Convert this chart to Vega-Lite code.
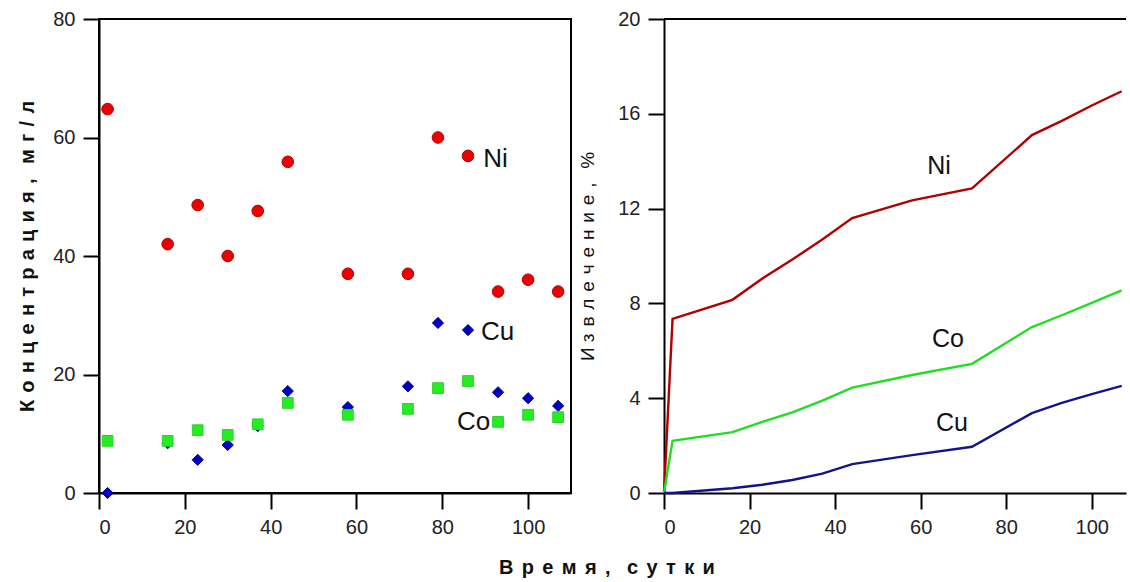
{
  "$schema": "https://vega.github.io/schema/vega-lite/v6.json",
  "padding": {"left": 16, "top": 8, "right": 0, "bottom": 4},
  "background": "white",
  "config": {
    "font": "Liberation Sans",
    "view": {"stroke": "#000", "strokeWidth": 2},
    "axis": {
      "grid": false,
      "domainColor": "#000",
      "domainWidth": 2,
      "tickColor": "#000",
      "tickWidth": 2,
      "tickSize": 16,
      "labelFont": "Liberation Sans",
      "labelFontSize": 20,
      "labelColor": "#222",
      "titleFont": "Liberation Sans",
      "titleColor": "#111",
      "titleFontSize": 19
    },
    "axisX": {"labelPadding": 8},
    "axisY": {"labelPadding": 8}
  },
  "datasets": {
    "conc": [
      {"t": 2, "el": "Ni", "c": 64.8},
      {"t": 16, "el": "Ni", "c": 42},
      {"t": 23, "el": "Ni", "c": 48.6},
      {"t": 30, "el": "Ni", "c": 40},
      {"t": 37, "el": "Ni", "c": 47.6},
      {"t": 44, "el": "Ni", "c": 55.9},
      {"t": 58, "el": "Ni", "c": 37},
      {"t": 72, "el": "Ni", "c": 37},
      {"t": 79, "el": "Ni", "c": 60},
      {"t": 86, "el": "Ni", "c": 56.9},
      {"t": 93, "el": "Ni", "c": 34},
      {"t": 100, "el": "Ni", "c": 36},
      {"t": 107, "el": "Ni", "c": 34},
      {"t": 2, "el": "Cu", "c": 0},
      {"t": 16, "el": "Cu", "c": 8.4},
      {"t": 23, "el": "Cu", "c": 5.6},
      {"t": 30, "el": "Cu", "c": 8.1},
      {"t": 37, "el": "Cu", "c": 11.3},
      {"t": 44, "el": "Cu", "c": 17.2},
      {"t": 58, "el": "Cu", "c": 14.5},
      {"t": 72, "el": "Cu", "c": 18},
      {"t": 79, "el": "Cu", "c": 28.7},
      {"t": 86, "el": "Cu", "c": 27.5},
      {"t": 93, "el": "Cu", "c": 17},
      {"t": 100, "el": "Cu", "c": 16},
      {"t": 107, "el": "Cu", "c": 14.7},
      {"t": 2, "el": "Co", "c": 8.8},
      {"t": 16, "el": "Co", "c": 8.8},
      {"t": 23, "el": "Co", "c": 10.6},
      {"t": 30, "el": "Co", "c": 9.8},
      {"t": 37, "el": "Co", "c": 11.6},
      {"t": 44, "el": "Co", "c": 15.2},
      {"t": 58, "el": "Co", "c": 13.2},
      {"t": 72, "el": "Co", "c": 14.2},
      {"t": 79, "el": "Co", "c": 17.7},
      {"t": 86, "el": "Co", "c": 18.9},
      {"t": 93, "el": "Co", "c": 12},
      {"t": 100, "el": "Co", "c": 13.2},
      {"t": 107, "el": "Co", "c": 12.8}
    ],
    "ext": [
      {"t": 0, "el": "Ni", "e": 0},
      {"t": 2, "el": "Ni", "e": 7.35},
      {"t": 16, "el": "Ni", "e": 8.15},
      {"t": 23, "el": "Ni", "e": 9.05},
      {"t": 30, "el": "Ni", "e": 9.85},
      {"t": 37, "el": "Ni", "e": 10.7},
      {"t": 44, "el": "Ni", "e": 11.6},
      {"t": 58, "el": "Ni", "e": 12.35},
      {"t": 72, "el": "Ni", "e": 12.85},
      {"t": 86, "el": "Ni", "e": 15.1},
      {"t": 93, "el": "Ni", "e": 15.7},
      {"t": 100, "el": "Ni", "e": 16.35},
      {"t": 107, "el": "Ni", "e": 16.95},
      {"t": 0, "el": "Co", "e": 0},
      {"t": 2, "el": "Co", "e": 2.2},
      {"t": 16, "el": "Co", "e": 2.57},
      {"t": 23, "el": "Co", "e": 3.0},
      {"t": 30, "el": "Co", "e": 3.4},
      {"t": 37, "el": "Co", "e": 3.9},
      {"t": 44, "el": "Co", "e": 4.45},
      {"t": 58, "el": "Co", "e": 4.98},
      {"t": 72, "el": "Co", "e": 5.45},
      {"t": 86, "el": "Co", "e": 7.0},
      {"t": 93, "el": "Co", "e": 7.5},
      {"t": 100, "el": "Co", "e": 8.02},
      {"t": 107, "el": "Co", "e": 8.55},
      {"t": 0, "el": "Cu", "e": 0},
      {"t": 2, "el": "Cu", "e": 0},
      {"t": 16, "el": "Cu", "e": 0.2},
      {"t": 23, "el": "Cu", "e": 0.35},
      {"t": 30, "el": "Cu", "e": 0.55},
      {"t": 37, "el": "Cu", "e": 0.82},
      {"t": 44, "el": "Cu", "e": 1.22},
      {"t": 58, "el": "Cu", "e": 1.6},
      {"t": 72, "el": "Cu", "e": 1.95},
      {"t": 86, "el": "Cu", "e": 3.37},
      {"t": 93, "el": "Cu", "e": 3.8},
      {"t": 100, "el": "Cu", "e": 4.17},
      {"t": 107, "el": "Cu", "e": 4.52}
    ],
    "lab1": [
      {"t": 92.4, "c": 56.4, "name": "Ni"},
      {"t": 92.9, "c": 27.2, "name": "Cu"},
      {"t": 87.3, "c": 12.0, "name": "Co"}
    ],
    "lab2": [
      {"t": 64.3, "e": 13.8, "name": "Ni"},
      {"t": 66.4, "e": 6.5, "name": "Co"},
      {"t": 67.3, "e": 2.96, "name": "Cu"}
    ]
  },
  "bounds": "flush",
  "spacing": 93,
  "title": {
    "text": "В\u2004\u200Aр\u2004\u200Aе\u2004\u200Aм\u2004\u200Aя\u2004\u200A,\u2004\u200A\u2004\u200Aс\u2004\u200Aу\u2004\u200Aт\u2004\u200Aк\u2004\u200Aи",
    "orient": "bottom",
    "anchor": "middle",
    "font": "Liberation Sans",
    "fontSize": 20,
    "fontWeight": "bold",
    "color": "#111",
    "offset": 20,
    "dx": 35
  },
  "hconcat": [
    {
      "width": 472,
      "height": 474,
      "layer": [
        {
          "data": {"name": "conc"},
          "mark": {"type": "point", "filled": true, "strokeWidth": 1, "opacity": 1},
          "encoding": {
            "x": {"field": "t", "type": "quantitative", "scale": {"domain": [0, 110], "nice": false},
                  "axis": {"values": [0, 20, 40, 60, 80, 100], "title": null}},
            "y": {"field": "c", "type": "quantitative", "scale": {"domain": [0, 80], "nice": false},
                  "axis": {"values": [0, 20, 40, 60, 80], "title": "К \u200Aо \u200Aн \u200Aц \u200Aе \u200Aн \u200Aт \u200Aр \u200Aа \u200Aц \u200Aи \u200Aя \u200A, \u200A\u00a0\u200Aм \u200Aг \u200A/ \u200Aл", "titleFontWeight": "bold", "titleFontSize": 20, "titlePadding": 15}},
            "shape": {"field": "el", "type": "nominal", "scale": {"domain": ["Ni", "Cu", "Co"], "range": ["circle", "diamond", "square"]}, "legend": null},
            "fill": {"field": "el", "type": "nominal", "scale": {"domain": ["Ni", "Cu", "Co"], "range": ["#ee0000", "#0000c0", "#22ee22"]}, "legend": null},
            "stroke": {"field": "el", "type": "nominal", "scale": {"domain": ["Ni", "Cu", "Co"], "range": ["#b00000", "#000090", "#33cc33"]}, "legend": null},
            "size": {"field": "el", "type": "nominal", "scale": {"domain": ["Ni", "Cu", "Co"], "range": [135, 115, 125]}, "legend": null}
          }
        },
        {
          "data": {"name": "lab1"},
          "mark": {"type": "text", "fontSize": 26, "font": "Liberation Sans", "color": "#111", "align": "center", "baseline": "middle"},
          "encoding": {
            "x": {"field": "t", "type": "quantitative"},
            "y": {"field": "c", "type": "quantitative"},
            "text": {"field": "name"}
          }
        }
      ]
    },
    {
      "width": 462,
      "height": 474,
      "view": {"stroke": null},
      "layer": [
        {
          "data": {"name": "ext"},
          "mark": {"type": "line", "strokeWidth": 2.4},
          "encoding": {
            "x": {"field": "t", "type": "quantitative", "scale": {"domain": [0, 108], "nice": false},
                  "axis": {"values": [0, 20, 40, 60, 80, 100], "title": null}},
            "y": {"field": "e", "type": "quantitative", "scale": {"domain": [0, 20], "nice": false},
                  "axis": {"values": [0, 4, 8, 12, 16, 20], "title": "И з\u200A в\u200A л\u200A е\u200A ч\u200A е\u200A н\u200A и\u200A е\u200A ,\u200A\u00a0\u00a0\u200A%", "titleFontWeight": "normal", "titlePadding": 20}},
            "color": {"field": "el", "type": "nominal", "scale": {"domain": ["Ni", "Co", "Cu"], "range": ["#b00000", "#22dd22", "#14148a"]}, "legend": null}
          }
        },
        {
          "data": {"name": "lab2"},
          "mark": {"type": "text", "fontSize": 25, "font": "Liberation Sans", "color": "#111", "align": "center", "baseline": "middle"},
          "encoding": {
            "x": {"field": "t", "type": "quantitative"},
            "y": {"field": "e", "type": "quantitative"},
            "text": {"field": "name"}
          }
        },
        {
          "data": {"values": [{"v": 20}]},
          "mark": {"type": "rule", "color": "#000", "strokeWidth": 2},
          "encoding": {"y": {"field": "v", "type": "quantitative"}}
        }
      ]
    }
  ]
}
